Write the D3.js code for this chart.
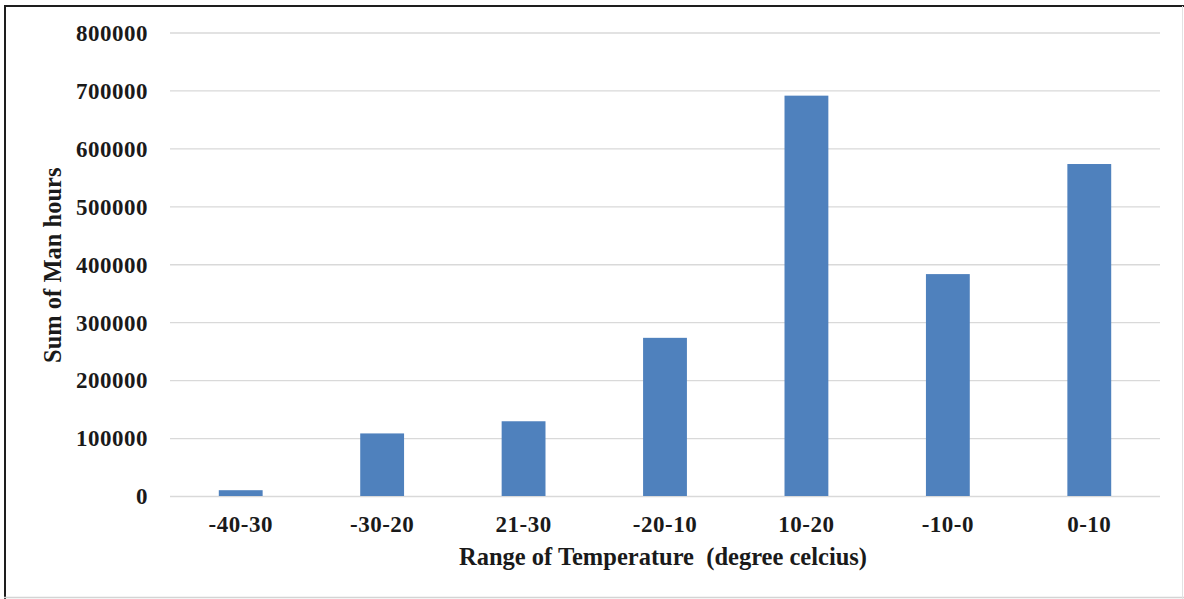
<!DOCTYPE html>
<html>
<head>
<meta charset="utf-8">
<script src="https://cdn.jsdelivr.net/npm/d3@7"></script>
<style>
  html, body { margin: 0; padding: 0; background: #fff; }
  svg { display: block; }
  text { font-family: "Liberation Serif", "Times New Roman", serif; font-weight: bold; fill: #1a1a1a; }
</style>
</head>
<body>
<svg id="chart" width="1184" height="599"></svg>
<script>
// Temperature ranges, in the order they are plotted
const categories = ["-40-30", "-30-20", "21-30", "-20-10", "10-20", "-10-0", "0-10"];
// Sum of man hours per temperature range
const manHours = [10000, 108000, 129000, 273000, 691000, 383000, 573000];
// Value axis ticks
const yTicks = [0, 100000, 200000, 300000, 400000, 500000, 600000, 700000, 800000];

const svg = d3.select("#chart");
const W = 1184, H = 599;
const margin = { top: 32.5, right: 24, bottom: 103, left: 170 };
const plotW = W - margin.left - margin.right;
const plotH = H - margin.top - margin.bottom;

// Outer frame: dark on top/left, light on bottom/right
svg.append("rect").attr("x", 0).attr("y", 0).attr("width", W).attr("height", H).attr("fill", "#fff");
svg.append("line").attr("x1", 4).attr("x2", W).attr("y1", 6).attr("y2", 6)
  .attr("stroke", "#1e1e1e").attr("stroke-width", 2);
svg.append("line").attr("x1", 5).attr("x2", 5).attr("y1", 5).attr("y2", H)
  .attr("stroke", "#1e1e1e").attr("stroke-width", 2);
svg.append("line").attr("x1", 4).attr("x2", W).attr("y1", 597.5).attr("y2", 597.5)
  .attr("stroke", "#d4d4d4").attr("stroke-width", 1.5);
svg.append("line").attr("x1", 1182.5).attr("x2", 1182.5).attr("y1", 6).attr("y2", H)
  .attr("stroke", "#e2e2e2").attr("stroke-width", 1);

const g = svg.append("g").attr("transform", `translate(${margin.left},${margin.top})`);

const x = d3.scaleBand().domain(categories).range([0, plotW]).paddingInner(0.69).paddingOuter(0.345);
const y = d3.scaleLinear().domain([0, 800000]).range([plotH, 0]);

// Horizontal gridlines + y labels
const yAxis = d3.axisLeft(y).tickValues(yTicks).tickSize(-plotW).tickPadding(22).tickFormat(d3.format("d"));
const ya = g.append("g").call(yAxis);
ya.select(".domain").remove();
ya.selectAll(".tick line").attr("stroke", "#d9d9d9").attr("stroke-width", 1.3);
ya.selectAll(".tick text")
  .style("font-family", '"Liberation Serif", "Times New Roman", serif')
  .style("font-weight", "bold").style("font-size", "23px").style("letter-spacing", "0.5px")
  .attr("fill", "#1a1a1a").attr("dy", "0.34em");

// Bars
g.selectAll("rect.bar").data(manHours).join("rect")
  .attr("class", "bar")
  .attr("x", (d, i) => x(categories[i]))
  .attr("y", d => y(d))
  .attr("width", x.bandwidth())
  .attr("height", d => y(0) - y(d))
  .attr("fill", "#4f81bd");

// Category labels
const xAxis = d3.axisBottom(x).tickSize(0).tickPadding(20);
const xa = g.append("g").attr("transform", `translate(0,${plotH})`).call(xAxis);
xa.select(".domain").remove();
xa.selectAll(".tick text")
  .style("font-family", '"Liberation Serif", "Times New Roman", serif')
  .style("font-weight", "bold").style("font-size", "23px").style("letter-spacing", "0.5px")
  .attr("fill", "#1a1a1a");

// Axis titles
svg.append("text")
  .attr("x", margin.left + plotW / 2 - 2).attr("y", 565)
  .attr("text-anchor", "middle")
  .style("font-size", "24.5px")
  .text("Range of Temperature\u00a0 (degree celcius)");

svg.append("text")
  .attr("transform", `translate(61,${margin.top + plotH / 2 + 1}) rotate(-90)`)
  .attr("text-anchor", "middle")
  .style("font-size", "24.5px")
  .text("Sum of Man hours");
</script>
</body>
</html>
